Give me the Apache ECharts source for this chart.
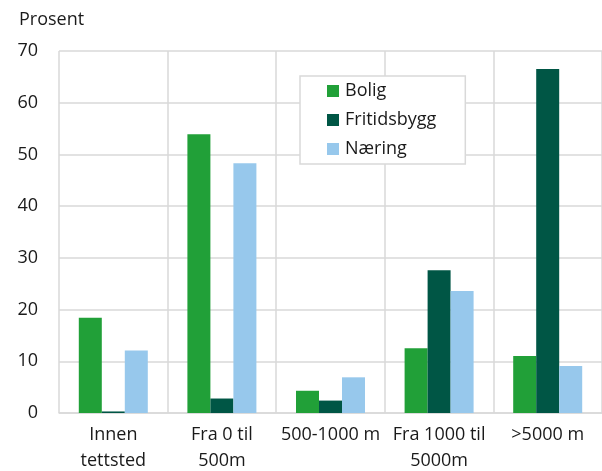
<!DOCTYPE html>
<html><head><meta charset="utf-8">
<script src="https://cdn.jsdelivr.net/npm/echarts@6/dist/echarts.min.js"></script>
<style>html,body{margin:0;padding:0;background:#fff}#c{width:602px;height:471px}</style>
</head><body><div id="c"></div>
<script>
const categories = ['Innen\ntettsted', 'Fra 0 til\n500m', '500-1000 m', 'Fra 1000 til\n5000m', '>5000 m'];
const bolig = [18.4, 53.9, 4.3, 12.5, 11.0];
const fritidsbygg = [0.3, 2.8, 2.4, 27.6, 66.5];
const naering = [12.1, 48.3, 6.9, 23.6, 9.1];
const yTicks = [0, 10, 20, 30, 40, 50, 60, 70];

const FONT = 'Open Sans';
const chart = echarts.init(document.getElementById('c'));
const bar = (name, data, color) => ({
  name, type: 'bar', data, barWidth: 23, barGap: '0%',
  itemStyle: { color }, emphasis: { disabled: true }
});
chart.setOption({
  animation: false,
  textStyle: { fontFamily: FONT },
  title: { text: 'Prosent', left: 14, top: 6,
    textStyle: { fontFamily: FONT, fontSize: 18, fontWeight: 'normal', color: '#1a1a1a' } },
  grid: { left: 59, width: 543, top: 51, bottom: 58, containLabel: false, outerBoundsMode: 'none' },
  legend: {
    orient: 'vertical', left: 300, top: 76,
    padding: [5, 29, 5, 27], itemGap: 9, itemWidth: 12, itemHeight: 12,
    borderColor: '#d9d9d9', borderWidth: 1.5, backgroundColor: '#fff',
    icon: 'rect',
    textStyle: { fontFamily: FONT, fontSize: 18, color: '#1a1a1a', lineHeight: 20, padding: [0, 0, 0, 1] },
    data: ['Bolig', 'Fritidsbygg', 'Næring']
  },
  xAxis: {
    type: 'category', data: categories,
    axisLine: { lineStyle: { color: '#d9d9d9', width: 1.5 } },
    axisTick: { show: false },
    splitLine: { show: true, lineStyle: { color: '#d9d9d9', width: 1.5 } },
    axisLabel: { fontFamily: FONT, fontSize: 18, color: '#1a1a1a', lineHeight: 26, margin: 9, interval: 0 }
  },
  yAxis: {
    type: 'value', min: yTicks[0], max: yTicks[yTicks.length - 1], interval: 10,
    axisLine: { show: false }, axisTick: { show: false },
    splitLine: { lineStyle: { color: '#d9d9d9', width: 1.5 } },
    axisLabel: { fontFamily: FONT, fontSize: 18, color: '#1a1a1a', margin: 21 }
  },
  series: [
    bar('Bolig', bolig, '#21a038'),
    bar('Fritidsbygg', fritidsbygg, '#005645'),
    bar('Næring', naering, '#97c8ec')
  ]
});
</script></body></html>
